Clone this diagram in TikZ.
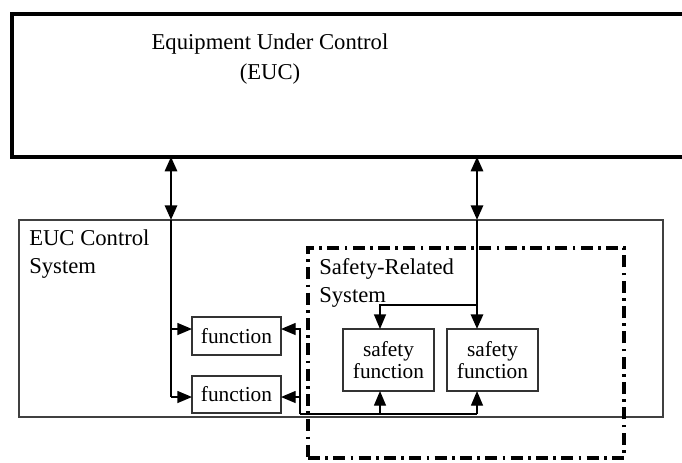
\documentclass[tikz,border=0pt]{standalone}
\usepackage{fontspec}
\setmainfont{Liberation Serif}
\usetikzlibrary{arrows.meta,positioning}

\tikzset{
  eucbox/.style={draw, line width=3pt, outer sep=0pt, inner sep=0pt},
  ctrlbox/.style={draw=black!75, line width=0.9pt, outer sep=0pt, inner sep=0pt},
  srsbox/.style={draw, line width=2.6pt, outer sep=0pt, inner sep=0pt,
    dash pattern=on 9pt off 4pt on 2pt off 4pt},
  fnbox/.style={draw=black!80, line width=0.8pt, outer sep=0pt, inner sep=0pt,
    align=center, font=\fontsize{16}{17}\selectfont},
  lbl/.style={inner sep=0pt, align=left, font=\fontsize{17}{21}\selectfont},
  link/.style={line width=1pt},
  bus/.style={line width=2.2pt},
  tip/.style={-{Triangle[length=11pt,width=9pt]}},
  tips/.style={{Triangle[length=11pt,width=9pt]}-{Triangle[length=11pt,width=9pt]}},
}

\begin{document}
\begin{tikzpicture}[x=0.75pt,y=-0.75pt]
\useasboundingbox (0,0) rectangle (682,462);
\clip (0,0) rectangle (682,462);

% boxes
\node[eucbox, anchor=north west, minimum width=520pt, minimum height=107pt] (euc) at (11.5,14) {};
\node[inner sep=0pt, align=center, font=\fontsize{17}{22.5}\selectfont] (euctxt) at (270,59)
  {Equipment Under Control\\(EUC)};
\node[ctrlbox, anchor=north west, minimum width=483pt, minimum height=147.75pt] (ctrl) at (19,220) {};
\node[lbl, anchor=north west] (ctrllbl) at (29,229) {EUC Control\\System};
\node[srsbox, anchor=north west, minimum width=237pt, minimum height=157.5pt] (srs) at (308,248) {};
\node[lbl, anchor=north west] (srslbl) at (319,258) {Safety-Related\\System};

\node[fnbox, anchor=north west, minimum width=66.75pt, minimum height=28.5pt] (fn1) at (192,317) {function};
\node[fnbox, anchor=north west, minimum width=66.75pt, minimum height=27.75pt] (fn2) at (192,376) {function};
\node[fnbox, anchor=north west, minimum width=68.25pt, minimum height=46.5pt] (sf1) at (343,329) {safety\\function};
\node[fnbox, anchor=north west, minimum width=68.25pt, minimum height=46.5pt] (sf2) at (447,329) {safety\\function};

% x and y of the wiring
\coordinate (busL) at (171,0);
\coordinate (busM) at (300,0);
\coordinate (tapA) at (380,0);
\coordinate (busR) at (477,0);
\coordinate (split) at (0,305);
\coordinate (rowA) at (0,329);
\coordinate (rowB) at (0,397);
\coordinate (base) at (0,414);

% links to the equipment
\draw[bus,tips] (euc.south -| busL) -- (ctrl.north -| busL);
\draw[bus,tips] (euc.south -| busR) -- (ctrl.north -| busR);
\draw[bus,tip] (ctrl.north -| busR) -- (sf2.north -| busR);
\draw[link,tip] (busR |- split) -| (sf1.north -| tapA);

% inputs of the control functions
\draw[link] (ctrl.north -| busL) -- (busL |- rowB);
\draw[link,tip] (busL |- rowA) -- (fn1.west |- rowA);
\draw[link,tip] (busL |- rowB) -- (fn2.west |- rowB);

% return path along the bottom
\draw[link,tip] (busM |- base) |- (fn1.east |- rowA);
\draw[link,tip] (busM |- rowB) -- (fn2.east |- rowB);
\draw[link] (busM |- base) -- (busR |- base);
\draw[link,tip] (tapA |- base) -- (sf1.south -| tapA);
\draw[link,tip] (busR |- base) -- (sf2.south -| busR);
\end{tikzpicture}
\end{document}
